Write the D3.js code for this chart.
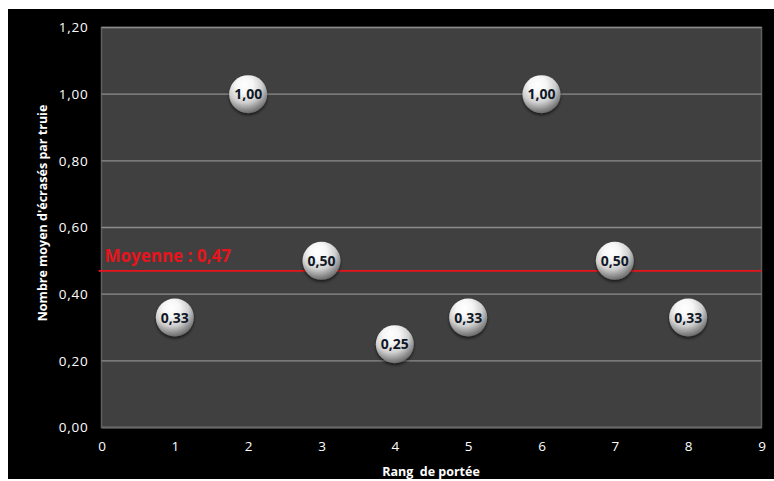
<!DOCTYPE html>
<html>
<head>
<meta charset="utf-8">
<script src="https://cdn.jsdelivr.net/npm/d3@7"></script>
<style>
  html, body { margin: 0; padding: 0; background: #ffffff; }
  svg { display: block; }
</style>
</head>
<body>
<svg id="chart" width="774" height="481"></svg>
<script>
// Rang de portée vs nombre moyen d'écrasés par truie
const ranks = [1, 2, 3, 4, 5, 6, 7, 8];
const values = [0.33, 1.00, 0.50, 0.25, 0.33, 1.00, 0.50, 0.33];
const meanValue = 0.47;
const xTicks = [0, 1, 2, 3, 4, 5, 6, 7, 8, 9];
const yTicks = [0, 0.2, 0.4, 0.6, 0.8, 1.0, 1.2];
const meanLabel = "Moyenne : 0,47";
const xTitle = "Rang  de portée";
const yTitle = "Nombre moyen d'écrasés par truie";

const svg = d3.select("#chart");
const fmt = v => d3.format(".2f")(v).replace(".", ",");

const plot = { left: 101.5, right: 761.5, top: 27.5, bottom: 427.5 };
const x = d3.scaleLinear().domain([0, 9]).range([plot.left, plot.right]);
const y = d3.scaleLinear().domain([0, 1.2]).range([plot.bottom, plot.top]);

// Gradient for the glossy ball markers
const defs = svg.append("defs");
const grad = defs.append("radialGradient")
  .attr("id", "ball").attr("cx", "42%").attr("cy", "30%").attr("r", "75%")
  .attr("fx", "40%").attr("fy", "24%");
[["0%", "#ffffff"], ["30%", "#f6f6f6"], ["60%", "#cfcfcf"], ["82%", "#8e8e8e"], ["100%", "#5c5c5c"]]
  .forEach(([o, c]) => grad.append("stop").attr("offset", o).attr("stop-color", c));
const shadow = defs.append("filter").attr("id", "shadow")
  .attr("x", "-50%").attr("y", "-50%").attr("width", "200%").attr("height", "200%");
shadow.append("feDropShadow").attr("dx", 0).attr("dy", 2).attr("stdDeviation", 1.5)
  .attr("flood-color", "#000").attr("flood-opacity", 0.6);

// Black chart frame
svg.append("rect").attr("x", 8).attr("y", 9).attr("width", 766).attr("height", 470).attr("fill", "#000");

// Plot area
svg.append("rect")
  .attr("x", plot.left).attr("y", plot.top)
  .attr("width", plot.right - plot.left).attr("height", plot.bottom - plot.top)
  .attr("fill", "#404040").attr("stroke", "#5e5e5e").attr("stroke-width", 1.5);

// Horizontal gridlines
svg.append("g").selectAll("line").data(yTicks).join("line")
  .attr("x1", plot.left).attr("x2", plot.right)
  .attr("y1", d => y(d)).attr("y2", d => y(d))
  .attr("stroke", d => d === 0 ? "#6a6a6a" : "#8c8c8c").attr("stroke-width", d => d === 0 ? 2 : 1.3);

// Y axis labels
const yAxis = svg.append("g").attr("transform", `translate(${plot.left},0)`)
  .call(d3.axisLeft(y).tickValues(yTicks).tickFormat(fmt).tickSize(0).tickPadding(13));
yAxis.select(".domain").remove();
yAxis.selectAll("text").attr("fill", "#ffffff")
  .style("font-family", "'Open Sans', sans-serif").style("font-size", "13.5px")
  .attr("letter-spacing", "0.8px");

// X axis labels
const xAxis = svg.append("g").attr("transform", `translate(0,${plot.bottom})`)
  .call(d3.axisBottom(x).tickValues(xTicks).tickFormat(d3.format("d")).tickSize(0).tickPadding(14));
xAxis.select(".domain").remove();
xAxis.selectAll("text").attr("fill", "#ffffff")
  .style("font-family", "'Open Sans', sans-serif").style("font-size", "13.5px");

// Axis titles
svg.append("text")
  .attr("transform", "translate(47,213) rotate(-90)")
  .attr("text-anchor", "middle").attr("fill", "#ffffff")
  .style("font-family", "'Open Sans', sans-serif").style("font-size", "12.5px").style("font-weight", "bold")
  .text(yTitle);
svg.append("text")
  .attr("x", 431).attr("y", 476)
  .attr("text-anchor", "middle").attr("fill", "#ffffff")
  .style("font-family", "'Open Sans', sans-serif").style("font-size", "12.5px").style("font-weight", "bold")
  .style("white-space", "pre")
  .text(xTitle);

// Mean line and its label
svg.append("line")
  .attr("x1", plot.left - 3).attr("x2", plot.right)
  .attr("y1", y(meanValue)).attr("y2", y(meanValue))
  .attr("stroke", "#e8141c").attr("stroke-width", 1.6);
svg.append("text")
  .attr("x", plot.left + 3).attr("y", y(meanValue) - 9)
  .attr("fill", "#e8141c")
  .style("font-family", "'Open Sans', sans-serif").style("font-size", "17px").style("font-weight", "bold")
  .text(meanLabel);

// Ball markers with value labels
const pts = ranks.map((r, i) => ({ r, v: values[i] }));
const g = svg.append("g");
g.selectAll("circle").data(pts).join("circle")
  .attr("cx", d => x(d.r)).attr("cy", d => y(d.v)).attr("r", 19)
  .attr("fill", "url(#ball)").attr("filter", "url(#shadow)");
g.selectAll("text").data(pts).join("text")
  .attr("x", d => x(d.r)).attr("y", d => y(d.v) + 5)
  .attr("text-anchor", "middle").attr("fill", "#101828")
  .style("font-family", "'Open Sans', sans-serif").style("font-size", "14px").style("font-weight", "bold")
  .text(d => fmt(d.v));
</script>
</body>
</html>
